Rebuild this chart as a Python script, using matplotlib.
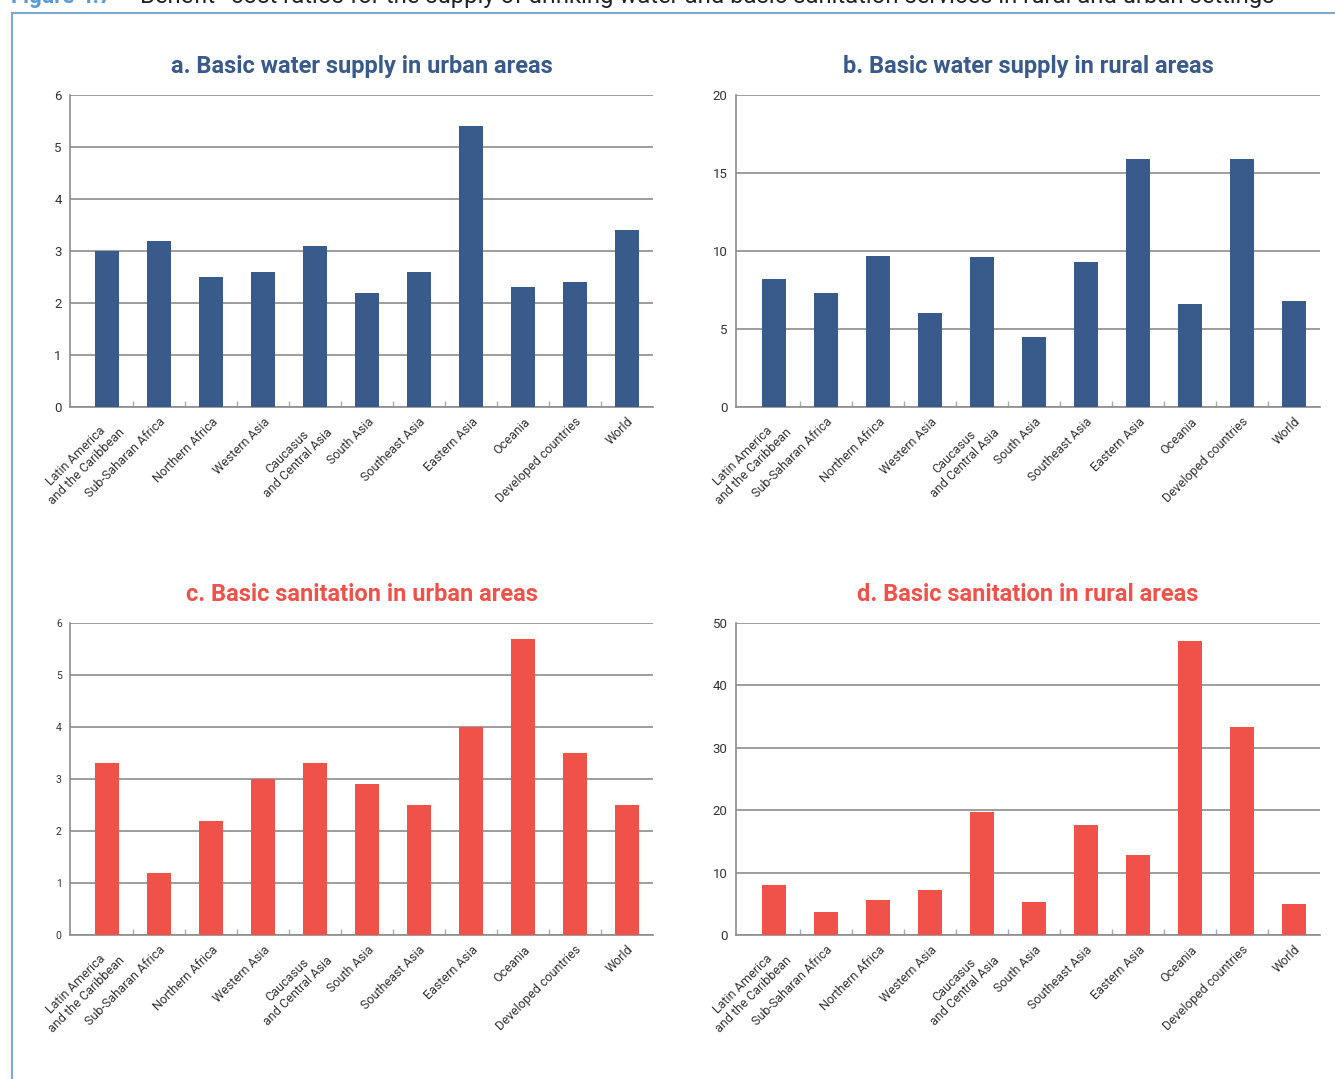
import numpy as np
import matplotlib
matplotlib.use("Agg")
import matplotlib.pyplot as plt
from matplotlib.lines import Line2D

# regions (shared by all four panels)
regions = ["Latin America\nand the Caribbean", "Sub-Saharan Africa", "Northern Africa",
           "Western Asia", "Caucasus\nand Central Asia", "South Asia", "Southeast Asia",
           "Eastern Asia", "Oceania", "Developed countries", "World"]

# benefit-cost ratios
water_urban = [3.0, 3.2, 2.5, 2.6, 3.1, 2.2, 2.6, 5.4, 2.3, 2.4, 3.4]
water_rural = [8.2, 7.3, 9.7, 6.0, 9.6, 4.5, 9.3, 15.9, 6.6, 15.9, 6.8]
san_urban = [3.3, 1.2, 2.2, 3.0, 3.3, 2.9, 2.5, 4.0, 5.7, 3.5, 2.5]
san_rural = [8.0, 3.7, 5.6, 7.2, 19.7, 5.3, 17.6, 12.8, 47.1, 33.3, 5.0]

titles = ["a. Basic water supply in urban areas", "b. Basic water supply in rural areas",
          "c. Basic sanitation in urban areas", "d. Basic sanitation in rural areas"]

blue = "#395b8b"
red = "#f0524a"
W, H = 1335, 1079

plt.rcParams['font.family'] = ['Roboto', 'DejaVu Sans']
fig = plt.figure(figsize=(W / 100, H / 100), dpi=100)

# panel boxes in pixels: left, right, top, bottom
boxes = [(70, 653, 95, 407), (736, 1320, 95, 407),
         (70, 653, 623, 935), (736, 1320, 623, 935)]
data = [water_urban, water_rural, san_urban, san_rural]
ymax = [6, 20, 6, 50]
ystep = [1, 5, 1, 10]
colors = [blue, blue, red, red]
tick_fs = [9.5, 9.5, 7.5, 9.5]

n = len(regions)
x = np.arange(n)
for i in range(4):
    l, r, t, b = boxes[i]
    ax = fig.add_axes([l / W, 1 - b / H, (r - l) / W, (b - t) / H])
    ax.bar(x, data[i], width=0.475, color=colors[i], zorder=3)
    # small gap between the y axis and the first category
    gap = (r - l - 52 * n) / 52
    ax.set_xlim(-0.5 - gap, n - 0.5)
    ax.set_ylim(0, ymax[i])
    ax.set_yticks(np.arange(0, ymax[i] + 1, ystep[i]))
    ax.yaxis.grid(True, color="#8c8c8c", lw=1.2, zorder=1)
    ax.set_axisbelow(True)
    for s in ["top", "right"]:
        ax.spines[s].set_visible(False)
    for s in ["left", "bottom"]:
        ax.spines[s].set_color("#8c8c8c")
        ax.spines[s].set_linewidth(1.2)
    ax.tick_params(axis="y", length=0, labelsize=tick_fs[i], labelcolor="#333333", pad=6)
    ax.set_xticks(x)
    ax.set_xticklabels(regions, rotation=45, ha="right", rotation_mode="anchor",
                       fontsize=9, color="#333333", multialignment="center")
    ax.tick_params(axis="x", which="major", length=0, pad=6)
    ax.set_xticks(np.arange(0.5, n - 1, 1), minor=True)
    ax.tick_params(axis="x", which="minor", length=4, width=1, color="#aaaaaa", direction="in")
    ax.set_title(titles[i], fontsize=17, fontweight="bold", color=colors[i], pad=16)

# outer frame
frame = "#7ea7d3"
fig.add_artist(Line2D([12 / W, 12 / W], [1 - 13 / H, 0], color=frame, lw=1.5,
                      transform=fig.transFigure))
fig.add_artist(Line2D([12 / W, 1], [1 - 13 / H, 1 - 13 / H], color=frame, lw=1.5,
                      transform=fig.transFigure))

# heading, cut off at the top edge
fig.text(11 / W, 1 - 3 / H, "Figure 4.7", fontsize=16, fontweight="bold",
         color="#5b9bd5", va="baseline", ha="left")
fig.text(140 / W, 1 - 3 / H,
         "Benefit\u2013cost ratios for the supply of drinking water and basic sanitation services in rural and urban settings",
         fontsize=17.2, color="#222222", va="baseline", ha="left")

fig.savefig("out.png", dpi=100)
